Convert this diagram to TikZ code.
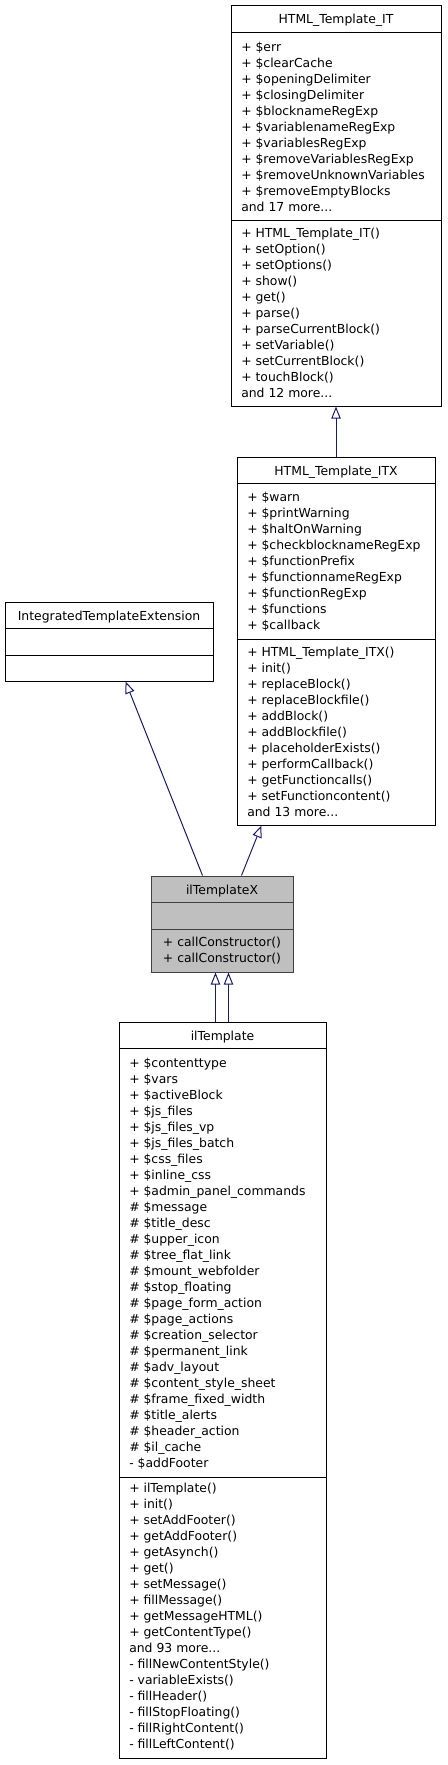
\documentclass[tikz,border=0pt]{standalone}
\usepackage{fontspec}
\setmainfont{DejaVu Sans}
\usetikzlibrary{arrows.meta,fit,calc}
\definecolor{edgeblue}{RGB}{25,25,112}
\definecolor{nodegray}{RGB}{191,191,191}
\definecolor{bordergray}{RGB}{64,64,64}
\begin{document}
\begin{tikzpicture}[x=0.75pt,y=-0.75pt,
  comp/.style={draw=black, line width=0.75pt, fill=white, inner sep=0pt},
  compx/.style={draw=bordergray, line width=0.75pt, fill=nodegray, inner sep=0pt},
  ttl/.style={font=\fontsize{9.3pt}{12pt}\selectfont, inner sep=0pt, anchor=base},
  txt/.style={font=\fontsize{9.3pt}{12pt}\selectfont, inner sep=0pt, align=left, anchor=north west},
  inh/.style={draw=edgeblue, line width=0.75pt, -{Triangle[open, length=9pt, width=7pt, fill=white]}}]
\useasboundingbox[fill=white] (0,0) rectangle (447,1765);

% HTML_Template_IT
\node[comp, fit={(231,6)(441,33)}] (itT) {};
\node[comp, fit={(231,33)(441,221)}] (itA) {};
\node[comp, fit={(231,221)(441,406)}] (itM) {};
\node[ttl] (itTl) at ($(itT.north)+(0,18.5)$) {HTML\_Template\_IT};
\node[txt] (itAl) at (241,40) {\strut + \$err\\+ \$clearCache\\+ \$openingDelimiter\\+ \$closingDelimiter\\+ \$blocknameRegExp\\+ \$variablenameRegExp\\+ \$variablesRegExp\\+ \$removeVariablesRegExp\\+ \$removeUnknownVariables\\+ \$removeEmptyBlocks\\and 17 more...};
\node[txt] (itMl) at (241,226) {\strut + HTML\_Template\_IT()\\+ setOption()\\+ setOptions()\\+ show()\\+ get()\\+ parse()\\+ parseCurrentBlock()\\+ setVariable()\\+ setCurrentBlock()\\+ touchBlock()\\and 12 more...};

% HTML_Template_ITX
\node[comp, fit={(237,457)(435,483)}] (itxT) {};
\node[comp, fit={(237,483)(435,639)}] (itxA) {};
\node[comp, fit={(237,639)(435,825)}] (itxM) {};
\node[ttl] (itxTl) at ($(itxT.north)+(0,18.5)$) {HTML\_Template\_ITX};
\node[txt] (itxAl) at (247,490) {\strut + \$warn\\+ \$printWarning\\+ \$haltOnWarning\\+ \$checkblocknameRegExp\\+ \$functionPrefix\\+ \$functionnameRegExp\\+ \$functionRegExp\\+ \$functions\\+ \$callback};
\node[txt] (itxMl) at (247,645) {\strut + HTML\_Template\_ITX()\\+ init()\\+ replaceBlock()\\+ replaceBlockfile()\\+ addBlock()\\+ addBlockfile()\\+ placeholderExists()\\+ performCallback()\\+ getFunctioncalls()\\+ setFunctioncontent()\\and 13 more...};

% IntegratedTemplateExtension
\node[comp, fit={(5,602)(213,628)}] (iteT) {};
\node[comp, fit={(5,628)(213,655)}] (iteA) {};
\node[comp, fit={(5,655)(213,681)}] (iteM) {};
\node[ttl] (iteTl) at ($(iteT.north)+(0,18.5)$) {IntegratedTemplateExtension};

% ilTemplateX
\node[compx, fit={(151,876)(293,902)}] (ilxT) {};
\node[compx, fit={(151,902)(293,929)}] (ilxA) {};
\node[compx, fit={(151,929)(293,972)}] (ilxM) {};
\node[ttl] (ilxTl) at ($(ilxT.north)+(0,18.5)$) {ilTemplateX};
\node[txt, anchor=north] (ilxMl) at (222,935) {\strut + callConstructor()\\+ callConstructor()};

% ilTemplate
\node[comp, fit={(119,1022)(326,1048)}] (ilT) {};
\node[comp, fit={(119,1048)(326,1477)}] (ilA) {};
\node[comp, fit={(119,1477)(326,1758)}] (ilM) {};
\node[ttl] (ilTl) at ($(ilT.north)+(0,18.5)$) {ilTemplate};
\node[txt] (ilAl) at (129,1056) {\strut + \$contenttype\\+ \$vars\\+ \$activeBlock\\+ \$js\_files\\+ \$js\_files\_vp\\+ \$js\_files\_batch\\+ \$css\_files\\+ \$inline\_css\\+ \$admin\_panel\_commands\\\# \$message\\\# \$title\_desc\\\# \$upper\_icon\\\# \$tree\_flat\_link\\\# \$mount\_webfolder\\\# \$stop\_floating\\\# \$page\_form\_action\\\# \$page\_actions\\\# \$creation\_selector\\\# \$permanent\_link\\\# \$adv\_layout\\\# \$content\_style\_sheet\\\# \$frame\_fixed\_width\\\# \$title\_alerts\\\# \$header\_action\\\# \$il\_cache\\- \$addFooter};
\node[txt] (ilMl) at (129,1481) {\strut + ilTemplate()\\+ init()\\+ setAddFooter()\\+ getAddFooter()\\+ getAsynch()\\+ get()\\+ setMessage()\\+ fillMessage()\\+ getMessageHTML()\\+ getContentType()\\and 93 more...\\- fillNewContentStyle()\\- variableExists()\\- fillHeader()\\- fillStopFloating()\\- fillRightContent()\\- fillLeftContent()};

% inheritance edges
\draw[inh] (itxT.north) -- (itM.south);
\draw[inh] ($(ilxT.north west)+(52,0)$) -- ($(iteM.south west)+(121,0)$);
\draw[inh] ($(ilxT.north west)+(91,0)$) -- ($(itxM.south west)+(25,0)$);
\draw[inh] ($(ilT.north west)+(97,0)$) -- ($(ilxM.south west)+(65,0)$);
\draw[inh] ($(ilT.north west)+(110,0)$) -- ($(ilxM.south west)+(78,0)$);
\end{tikzpicture}
\end{document}
